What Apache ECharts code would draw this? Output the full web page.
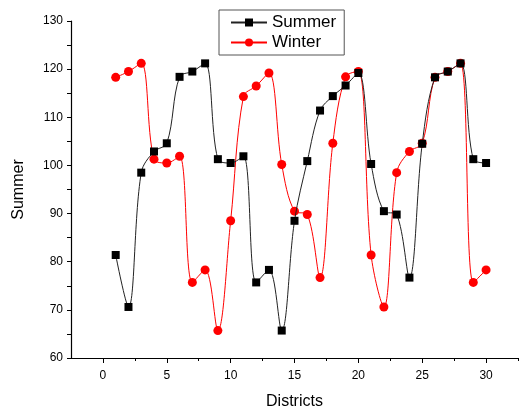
<!DOCTYPE html>
<html>
<head>
<meta charset="utf-8">
<script src="https://cdn.jsdelivr.net/npm/echarts@6/dist/echarts.min.js"></script>
<style>html,body{margin:0;padding:0;background:#fff}#c{width:519px;height:407px}</style>
</head>
<body>
<div id="c"></div>
<script>
const districts = [1,2,3,4,5,6,7,8,9,10,11,12,13,14,15,16,17,18,19,20,21,22,23,24,25,26,27,28,29,30];
const summer = [81.4,70.6,98.5,102.9,104.6,118.4,119.5,121.2,101.3,100.5,101.9,75.7,78.3,65.7,88.5,100.9,111.4,114.4,116.6,119.2,100.3,90.5,89.8,76.7,104.5,118.3,119.5,121.2,101.3,100.5];
const winter = [118.3,119.5,121.2,101.3,100.5,101.9,75.7,78.3,65.7,88.5,114.3,116.5,119.2,100.2,90.5,89.8,76.7,104.6,118.4,119.5,81.4,70.6,98.5,102.9,104.6,118.3,119.5,121.2,75.7,78.3];
const xMajor = [0,5,10,15,20,25,30];
const xMinor = [2.5,7.5,12.5,17.5,22.5,27.5,32.5];

const font = 'Liberation Sans, Arial, sans-serif';
const chart = echarts.init(document.getElementById('c'), null, {renderer:'canvas'});
chart.setOption({
  animation: false,
  backgroundColor: '#fff',
  grid: {left: 71, right: 1, top: 21, bottom: 49, containLabel: false, outerBoundsMode: 'none'},
  legend: {
    orient: 'vertical', left: 219, top: 10,
    padding: [4, 8, 4, 11],
    borderColor: '#555', borderWidth: 1,
    itemWidth: 36, itemHeight: 10, itemGap: 3,
    textStyle: {fontFamily: font, fontSize: 17, color: '#000'},
    data: ['Summer', 'Winter']
  },
  xAxis: [{
    type: 'value', min: -2.5, max: 32.5,
    name: 'Districts', nameLocation: 'middle', nameGap: 36,
    nameTextStyle: {fontFamily: font, fontSize: 16, color: '#000'},
    axisLine: {show: true, onZero: false, lineStyle: {color: '#000', width: 1.2}},
    axisTick: {show: true, customValues: xMajor, length: 5, lineStyle: {color: '#000'}},
    axisLabel: {customValues: xMajor, fontFamily: font, fontSize: 12, color: '#000', margin: 12},
    splitLine: {show: false}
  }, {
    type: 'value', min: -2.5, max: 32.5, position: 'bottom',
    axisLine: {show: false, onZero: false},
    axisTick: {show: true, customValues: xMinor, length: 3, lineStyle: {color: '#000'}},
    axisLabel: {show: false},
    splitLine: {show: false}
  }],
  yAxis: {
    type: 'value', min: 60, max: 130, interval: 5,
    name: 'Summer', nameLocation: 'middle', nameGap: 44,
    nameTextStyle: {fontFamily: font, fontSize: 16, color: '#000'},
    axisLine: {show: true, onZero: false, lineStyle: {color: '#000', width: 1.2}},
    axisTick: {show: true, length: 4, lineStyle: {color: '#000'}},
    axisLabel: {fontFamily: font, fontSize: 12, color: '#000', margin: 8,
      formatter: v => (v % 10 === 0 ? String(v) : '')},
    splitLine: {show: false}
  },
  series: [{
    name: 'Summer', type: 'line', xAxisIndex: 0,
    data: districts.map((d, i) => [d, summer[i]]),
    smooth: 0.35, symbol: 'rect', symbolSize: 8,
    itemStyle: {color: '#000'},
    lineStyle: {color: '#222', width: 1},
    z: 3
  }, {
    name: 'Winter', type: 'line', xAxisIndex: 0,
    data: districts.map((d, i) => [d, winter[i]]),
    smooth: 0.35, symbol: 'circle', symbolSize: 9,
    itemStyle: {color: '#f00'},
    lineStyle: {color: '#f00', width: 1},
    z: 2
  }]
});
</script>
</body>
</html>
